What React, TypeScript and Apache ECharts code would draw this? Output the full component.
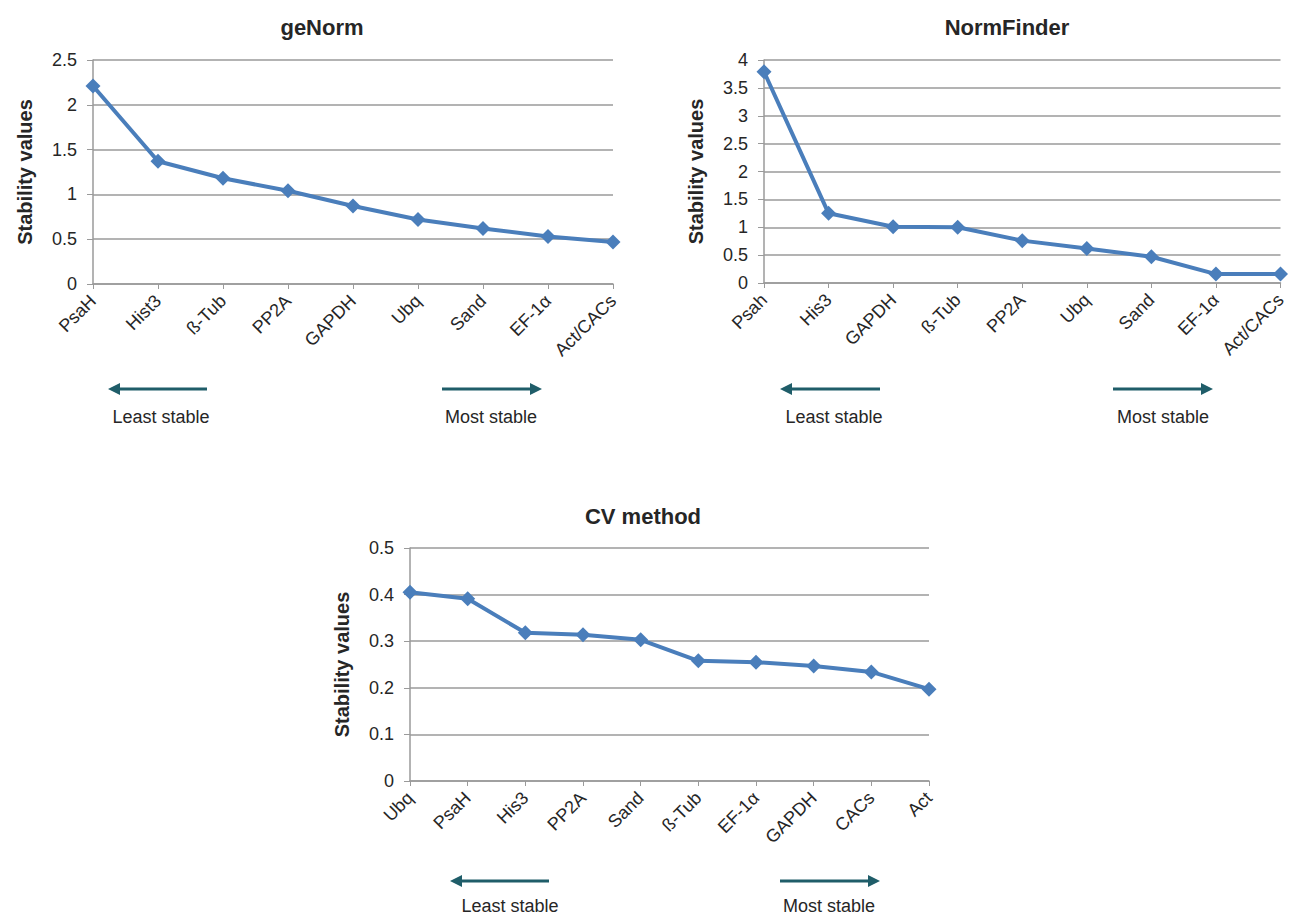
import React, { useEffect, useRef } from "react";
import * as echarts from "echarts";

// ---- data ----
const geNormCategories = ["PsaH", "Hist3", "ß-Tub", "PP2A", "GAPDH", "Ubq", "Sand", "EF-1α", "Act/CACs"];
const geNormValues = [2.21, 1.37, 1.18, 1.04, 0.87, 0.72, 0.62, 0.53, 0.47];

const normFinderCategories = ["Psah", "His3", "GAPDH", "ß-Tub", "PP2A", "Ubq", "Sand", "EF-1α", "Act/CACs"];
const normFinderValues = [3.79, 1.25, 1.01, 1.0, 0.76, 0.62, 0.47, 0.16, 0.16];

const cvCategories = ["Ubq", "PsaH", "His3", "PP2A", "Sand", "ß-Tub", "EF-1α", "GAPDH", "CACs", "Act"];
const cvValues = [0.405, 0.391, 0.318, 0.314, 0.303, 0.258, 0.255, 0.247, 0.234, 0.197];

const chartTitles = ["geNorm", "NormFinder", "CV method"];
const yAxisName = "Stability values";
const yMax = [2.5, 4, 0.5];
const yInterval = [0.5, 0.5, 0.1];
const leastLabel = "Least stable";
const mostLabel = "Most stable";

// ---- style ----
const FONT = "'Liberation Sans', Arial, Helvetica, sans-serif";
const TEXT = "#262626";
const LINE = "#4a7ebb";
const GRID = "#9a9a9a";
const ARROW = "#1f5d69";

const grids = [
  { left: 93, top: 60, width: 520, height: 224 },
  { left: 764, top: 60, width: 519, height: 223 },
  { left: 410, top: 548, width: 519, height: 233 },
];

function arrow(x1: number, x2: number, y: number, dirLeft: boolean) {
  const head = 12;
  const half = 6;
  const tip = dirLeft ? x1 : x2;
  const back = dirLeft ? x1 + head : x2 - head;
  return [
    {
      type: "line",
      shape: dirLeft ? { x1: back, y1: y, x2: x2, y2: y } : { x1: x1, y1: y, x2: back, y2: y },
      style: { stroke: ARROW, lineWidth: 3 },
    },
    {
      type: "polygon",
      shape: { points: [[tip, y], [back, y - half], [back, y + half]] },
      style: { fill: ARROW },
    },
  ];
}

function label(text: string, x: number, y: number) {
  return {
    type: "text",
    x,
    y,
    style: {
      text,
      fill: TEXT,
      font: `18px ${FONT}`,
      textAlign: "center",
      textVerticalAlign: "middle",
    },
  };
}

export default function App() {
  const ref = useRef<HTMLDivElement>(null);

  useEffect(() => {
    document.body.style.margin = "0";
    if (!ref.current) return;
    const chart = echarts.init(ref.current, undefined, { renderer: "svg" });

    const cats = [geNormCategories, normFinderCategories, cvCategories];
    const vals = [geNormValues, normFinderValues, cvValues];

    const option: any = {
      animation: false,
      backgroundColor: "#ffffff",
      title: [
        { text: chartTitles[0], left: 317, top: 11 },
        { text: chartTitles[1], left: 1002, top: 11 },
        { text: chartTitles[2], left: 638, top: 500 },
      ].map((t) => ({
        ...t,
        textAlign: "center",
        textStyle: { fontFamily: FONT, fontSize: 22, fontWeight: "bold", color: TEXT },
      })),
      grid: grids.map((g) => ({ ...g, containLabel: false })),
      xAxis: cats.map((c, i) => ({
        type: "category",
        gridIndex: i,
        data: c,
        boundaryGap: false,
        axisLine: { show: true, lineStyle: { color: GRID, width: 1.5 } },
        axisTick: { show: true, alignWithLabel: true, length: 5, lineStyle: { color: GRID } },
        axisLabel: {
          interval: 0,
          rotate: 45,
          margin: 14,
          fontFamily: FONT,
          fontSize: 18,
          color: TEXT,
        },
        splitLine: { show: false },
      })),
      yAxis: yMax.map((m, i) => ({
        type: "value",
        gridIndex: i,
        min: 0,
        max: m,
        interval: yInterval[i],
        name: yAxisName,
        nameLocation: "middle",
        nameRotate: 90,
        nameGap: 58,
        nameTextStyle: { fontFamily: FONT, fontSize: 20, fontWeight: "bold", color: TEXT },
        axisLine: { show: true, lineStyle: { color: GRID, width: 1.5 } },
        axisTick: { show: true, length: 6, lineStyle: { color: GRID } },
        axisLabel: {
          margin: 16,
          fontFamily: FONT,
          fontSize: 18,
          color: TEXT,
          formatter: (v: number) => String(+v.toFixed(2)),
        },
        splitLine: { show: true, lineStyle: { color: GRID, width: 1.5 } },
      })),
      series: vals.map((v, i) => ({
        type: "line",
        xAxisIndex: i,
        yAxisIndex: i,
        data: v,
        clip: false,
        symbol: "diamond",
        symbolSize: 15,
        lineStyle: { color: LINE, width: 4 },
        itemStyle: { color: LINE },
      })),
      graphic: [
        ...arrow(108, 207, 389, true),
        ...arrow(442, 542, 389, false),
        label(leastLabel, 161, 417),
        label(mostLabel, 491, 417),
        ...arrow(780, 880, 389, true),
        ...arrow(1113, 1213, 389, false),
        label(leastLabel, 834, 417),
        label(mostLabel, 1163, 417),
        ...arrow(450, 549, 881, true),
        ...arrow(780, 880, 881, false),
        label(leastLabel, 510, 906),
        label(mostLabel, 829, 906),
      ],
    };

    chart.setOption(option);
    return () => chart.dispose();
  }, []);

  return <div ref={ref} style={{ width: 1289, height: 918 }} />;
}
